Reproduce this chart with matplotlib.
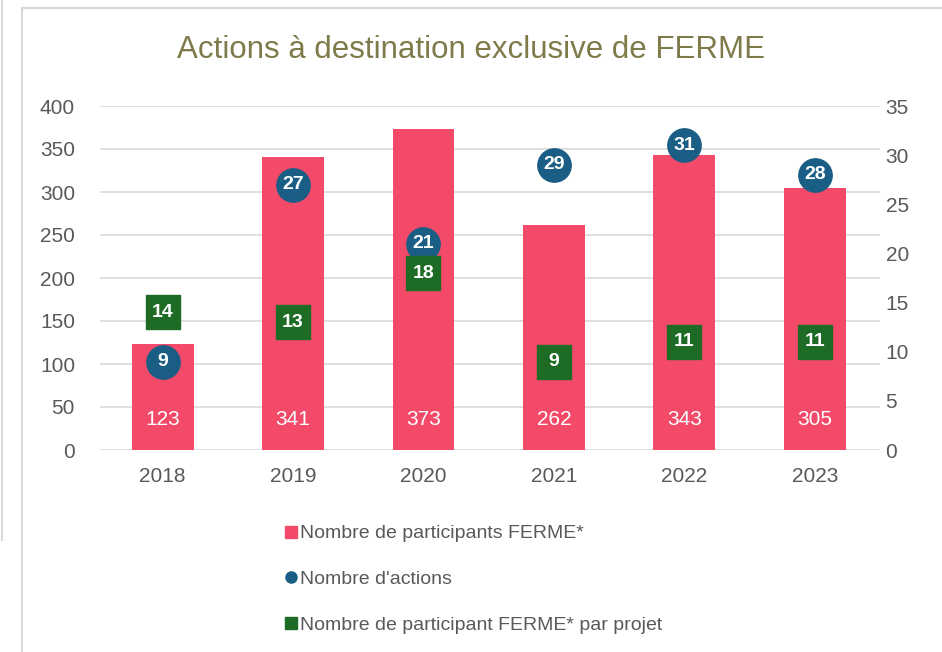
import matplotlib.pyplot as plt
from matplotlib.lines import Line2D
import numpy as np

plt.rcParams["font.family"] = ["Liberation Sans", "DejaVu Sans"]

years = ["2018", "2019", "2020", "2021", "2022", "2023"]
participants = [123, 341, 373, 262, 343, 305]
actions = [9, 27, 21, 29, 31, 28]
per_project = [14, 13, 18, 9, 11, 11]

left_ticks = [0, 50, 100, 150, 200, 250, 300, 350, 400]
right_ticks = [0, 5, 10, 15, 20, 25, 30, 35]

BAR = "#f44a69"
BLUE = "#1a5e85"
GREEN = "#1d6b25"
GRAY = "#595959"
TITLE = "#7f7a4a"

fig = plt.figure(figsize=(9.42, 6.52), dpi=100)
ax = fig.add_axes([100 / 942, 1 - 450 / 652, 780 / 942, 344 / 652])
ax2 = ax.twinx()

x = np.arange(len(years))
bars = ax.bar(x, participants, width=0.475, color=BAR, zorder=2)
for xi, v in zip(x, participants):
    ax.annotate(str(v), (xi, 0), xytext=(0, 22), textcoords="offset points",
                ha="center", va="center", color="white", fontsize=15)

ax.set_xlim(-0.48, 5.5)
ax.set_ylim(0, 400)
ax.set_yticks(left_ticks)
ax.set_xticks(x, years)
ax.grid(axis="y", color="#d9d9d9", linewidth=1.2, zorder=0)
ax.set_axisbelow(True)
ax.tick_params(axis="y", length=0, pad=18, labelsize=15, labelcolor=GRAY)
ax.tick_params(axis="x", length=0, pad=12, labelsize=15, labelcolor=GRAY)

ax2.set_ylim(0, 35)
ax2.set_yticks(right_ticks)
ax2.tick_params(axis="y", length=0, pad=4, labelsize=15, labelcolor=GRAY)
ax2.scatter(x, actions, s=24 ** 2, marker="o", color=BLUE, zorder=3)
ax2.scatter(x, per_project, s=24 ** 2, marker="s", color=GREEN, zorder=4)
for xi, v in zip(x, actions):
    ax2.text(xi, v, str(v), ha="center", va="center", color="white", fontsize=14,
             fontweight="bold", zorder=5)
for xi, v in zip(x, per_project):
    ax2.text(xi, v, str(v), ha="center", va="center", color="white", fontsize=14,
             fontweight="bold", zorder=6)

for a in (ax, ax2):
    for s in a.spines.values():
        s.set_visible(False)

fig.text(471 / 942, 1 - 50 / 652, "Actions à destination exclusive de FERME",
         ha="center", va="center", fontsize=22.5, color=TITLE)

handles = [
    Line2D([], [], marker="s", linestyle="none", color=BAR, markersize=8),
    Line2D([], [], marker="o", linestyle="none", color=BLUE, markersize=8),
    Line2D([], [], marker="s", linestyle="none", color=GREEN, markersize=8),
]
labels = ["Nombre de participants FERME*", "Nombre d'actions",
          "Nombre de participant FERME* par projet"]
fig.legend(handles, labels, loc="upper left", bbox_to_anchor=(277 / 942, 1 - 517 / 652),
           frameon=False, fontsize=14, labelcolor=GRAY, labelspacing=1.45,
           handlelength=0.6, handletextpad=0.2, borderaxespad=0)

# panel border
frame = "#d9d9d9"
fig.add_artist(Line2D([22 / 942, 1], [1 - 8 / 652, 1 - 8 / 652], transform=fig.transFigure,
                      color=frame, linewidth=1.5))
fig.add_artist(Line2D([22 / 942, 22 / 942], [0, 1 - 8 / 652], transform=fig.transFigure,
                      color=frame, linewidth=1.5))
fig.add_artist(Line2D([2 / 942, 2 / 942], [1 - 540 / 652, 1], transform=fig.transFigure,
                      color=frame, linewidth=1.5))

fig.savefig("out.png", dpi=100)
